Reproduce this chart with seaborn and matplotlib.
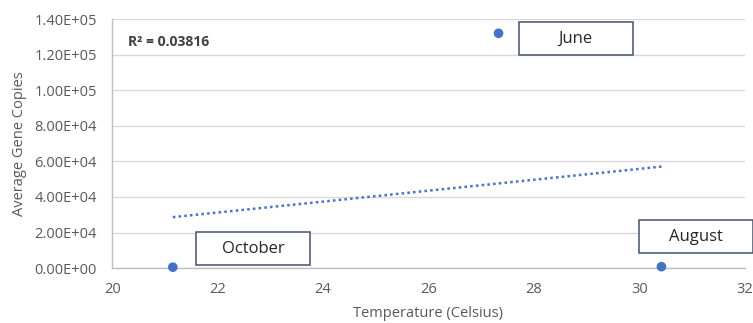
import matplotlib
matplotlib.use("Agg")
import matplotlib.pyplot as plt
from matplotlib.patches import Rectangle
import seaborn as sns
import pandas as pd

# Monthly averages: water temperature vs. gene copies
months = ["October", "June", "August"]
temperature = [21.15, 27.33, 30.42]
gene_copies = [500, 132000, 800]
r2_text = "R² = 0.03816"

x_ticks = [20, 22, 24, 26, 28, 30, 32]
y_ticks = [0, 20000, 40000, 60000, 80000, 100000, 120000, 140000]

df = pd.DataFrame({"month": months, "temp": temperature, "copies": gene_copies})

sns.set_theme(style="white")
plt.rcParams["font.family"] = ["Open Sans", "DejaVu Sans"]

fig = plt.figure(figsize=(7.53, 3.23), dpi=100)
ax = fig.add_axes([0.149, 0.170, 0.840, 0.771])

blue = "#4472C4"
grid_c = "#D9D9D9"
text_c = "#595959"

sns.regplot(data=df, x="temp", y="copies", scatter=False, ci=None, ax=ax,
            color=blue, line_kws=dict(lw=1.8, ls=(0, (1, 1.3))))
sns.scatterplot(data=df, x="temp", y="copies", ax=ax, color=blue, s=48,
                edgecolor="none", zorder=4, clip_on=False)

ax.set_xlim(20, 32)
ax.set_ylim(0, 140000)
ax.set_xticks(x_ticks)
ax.set_yticks(y_ticks)
ax.set_xticklabels([str(t) for t in x_ticks])
ax.set_yticklabels([f"{v:.2E}" for v in y_ticks])
ax.tick_params(axis="both", length=0, labelsize=10.5, labelcolor=text_c)
ax.tick_params(axis="x", pad=10)
ax.tick_params(axis="y", pad=11)

ax.yaxis.grid(True, color=grid_c, lw=1)
ax.xaxis.grid(False)
ax.set_axisbelow(True)
for side in ["top", "right"]:
    ax.spines[side].set_visible(False)
for side in ["left", "bottom"]:
    ax.spines[side].set_color("#BFBFBF")
    ax.spines[side].set_linewidth(1)

ax.set_xlabel("Temperature (Celsius)", fontsize=10.5, color=text_c)
ax.set_ylabel("Average Gene Copies", fontsize=10.5, color=text_c)
ax.xaxis.set_label_coords(0.5, -0.153)
ax.yaxis.set_label_coords(-0.134, 0.5)

ax.text(0.025, 0.908, r2_text, transform=ax.transAxes, fontsize=10,
        fontweight="bold", color="#404040", va="center", ha="left")

# Callout boxes with month names (axes-fraction placement)
callouts = {
    "June": (0.643, 0.855),
    "October": (0.133, 0.012),
    "August": (0.833, 0.060),
}
box_w, box_h = 0.180, 0.133
for name, (bx, by) in callouts.items():
    ax.add_patch(Rectangle((bx, by), box_w, box_h, transform=ax.transAxes,
                           facecolor="white", edgecolor="#44546A", lw=1.1,
                           clip_on=False, zorder=5))
    ax.text(bx + box_w / 2, by + box_h / 2, name, transform=ax.transAxes,
            ha="center", va="center", fontsize=12, fontweight="medium",
            color="#262626", zorder=6)

fig.savefig("out.png", dpi=100)
